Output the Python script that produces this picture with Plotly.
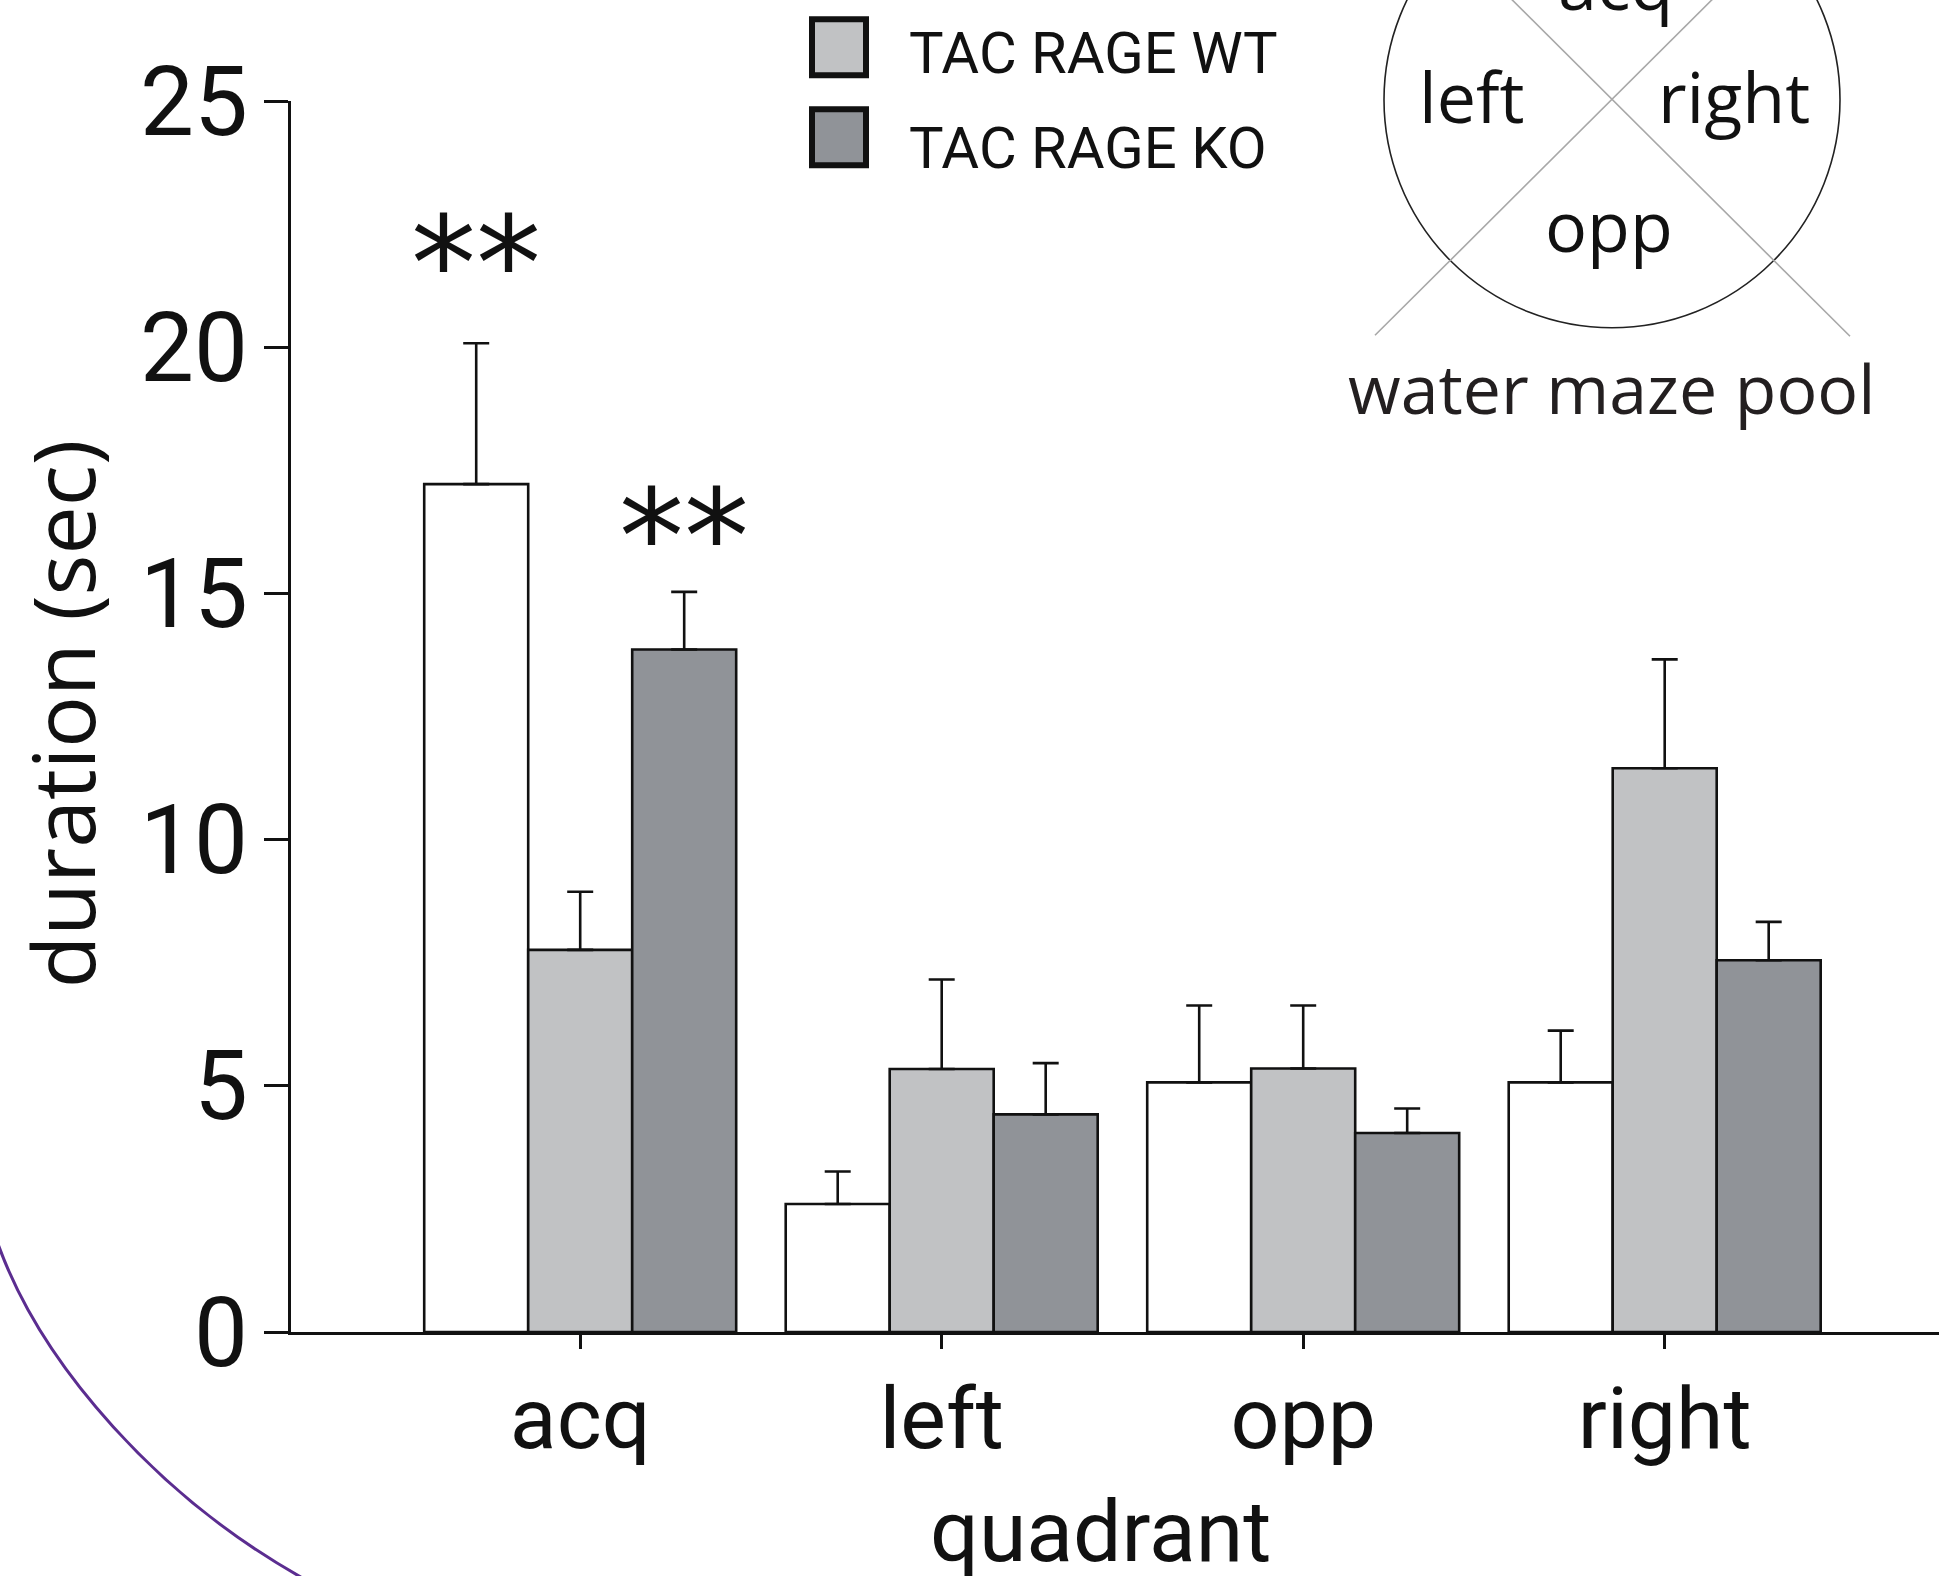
import plotly.graph_objects as go

# ---------------- data ----------------
quadrants = ["acq", "left", "opp", "right"]
control_mean = [17.22, 2.60, 5.07, 5.07]
control_sem = [2.86, 0.66, 1.56, 1.05]
wt_mean = [7.76, 5.34, 5.35, 11.45]
wt_sem = [1.18, 1.82, 1.28, 2.21]
ko_mean = [13.86, 4.42, 4.04, 7.55]
ko_sem = [1.17, 1.04, 0.50, 0.78]
series_names = ["control", "TAC RAGE WT", "TAC RAGE KO"]
y_ticks = [0, 5, 10, 15, 20, 25]
sig_marks = [("acq", 0, "**", 22.07), ("acq", 2, "**", 16.54)]
pool_labels = ["acq", "left", "right", "opp"]

# ---------------- style ----------------
W, H = 1939, 1576
L, R, T, B = 291, 0, 100.7, 244.3
PW, PH = W - L - R, H - T - B
COND = "Roboto, Liberation Sans, sans-serif"
HUM = "Open Sans, Noto Sans, sans-serif"
fills = ["#ffffff", "#c1c2c4", "#909398"]
BARGAP = 0.137


def px(x):
    return (x - L) / PW


def py(y):
    return (H - B - y) / PH


fig = go.Figure()
for name, m, s, c in zip(series_names, [control_mean, wt_mean, ko_mean],
                         [control_sem, wt_sem, ko_sem], fills):
    fig.add_trace(go.Bar(
        x=quadrants, y=m, name=name, showlegend=False,
        marker=dict(color=c, line=dict(color="#111111", width=2.6)),
        error_y=dict(type="data", symmetric=False, array=s,
                     arrayminus=[0] * len(s), color="#111111",
                     thickness=2.6, width=13),
    ))

bw = (1 - BARGAP) / 3
annotations = []
for cat, idx, txt, yv in sig_marks:
    annotations.append(dict(
        x=quadrants.index(cat) + (idx - 1) * bw, y=yv, xref="x", yref="y",
        text=txt, showarrow=False, yshift=-19,
        font=dict(family="DejaVu Sans", size=130, color="#111111"),
        xanchor="center", yanchor="middle"))

# axis titles
annotations.append(dict(x=px(61), y=py(714), xref="paper", yref="paper",
                        text="duration (sec)", textangle=-90, showarrow=False,
                        font=dict(family=HUM, size=86, color="#111111"),
                        xanchor="center", yanchor="middle"))
annotations.append(dict(x=px(1100), y=py(1531), xref="paper", yref="paper",
                        text="quadrant", showarrow=False,
                        font=dict(family=COND, size=86, color="#111111"),
                        xanchor="center", yanchor="middle"))

# legend (drawn manually)
shapes = []
leg_rows = [(series_names[1], fills[1], 17, 53), (series_names[2], fills[2], 107, 148)]
for name, col, top, cy in leg_rows:
    shapes.append(dict(type="rect", xref="paper", yref="paper",
                       x0=px(812), x1=px(866), y0=py(top + 2), y1=py(top + 58),
                       fillcolor=col, line=dict(color="#111111", width=6)))
    annotations.append(dict(x=px(907), y=py(cy), xref="paper", yref="paper",
                            text=name, showarrow=False,
                            font=dict(family=COND, size=58, color="#111111"),
                            xanchor="left", yanchor="middle"))

# water maze pool diagram
cx, cy, r = 1612, 99.5, 228
shapes.append(dict(type="circle", xref="paper", yref="paper",
                   x0=px(cx - r), x1=px(cx + r), y0=py(cy - r), y1=py(cy + r),
                   line=dict(color="#222222", width=1.6)))
shapes.append(dict(type="line", xref="paper", yref="paper",
                   x0=px(1375), y0=py(335), x1=px(cx + (cy + 20)), y1=py(-20),
                   line=dict(color="#a8a8a8", width=1.6)))
shapes.append(dict(type="line", xref="paper", yref="paper",
                   x0=px(1850), y0=py(336), x1=px(cx - (cy + 20)), y1=py(-20),
                   line=dict(color="#a8a8a8", width=1.6)))
pool_pos = {"acq": (1615, -17), "left": (1471, 96), "right": (1734, 96), "opp": (1609, 225)}
for lab in pool_labels:
    x0, y0 = pool_pos[lab]
    annotations.append(dict(x=px(x0), y=py(y0), xref="paper", yref="paper",
                            text=lab, showarrow=False,
                            font=dict(family=HUM, size=70, color="#111111"),
                            xanchor="center", yanchor="middle"))
annotations.append(dict(x=px(1611), y=py(387), xref="paper", yref="paper",
                        text="water maze pool", showarrow=False,
                        font=dict(family=HUM, size=68, color="#231f20"),
                        xanchor="center", yanchor="middle"))

# purple decorative arc
p0, p1, p2, p3 = (-4, 1238), (40, 1366), (162, 1499), (303, 1578)
path = "M {},{} C {},{} {},{} {},{}".format(
    px(p0[0]), py(p0[1]), px(p1[0]), py(p1[1]), px(p2[0]), py(p2[1]), px(p3[0]), py(p3[1]))
shapes.append(dict(type="path", xref="paper", yref="paper", path=path,
                   line=dict(color="#5b2d90", width=3)))

fig.update_layout(
    width=W, height=H, margin=dict(l=L, r=R, t=T, b=B, pad=0),
    paper_bgcolor="white", plot_bgcolor="white",
    barmode="group", bargap=BARGAP, bargroupgap=0,
    shapes=shapes, annotations=annotations, showlegend=False,
    xaxis=dict(type="category", range=[-0.8, -0.8 + PW / 361.5],
               showline=True, linecolor="#111111", linewidth=2.6,
               ticks="outside", ticklen=14, tickwidth=2.6, tickcolor="#111111",
               showgrid=False, zeroline=False, ticklabelstandoff=-4,
               tickfont=dict(family=COND, size=86, color="#111111")),
    yaxis=dict(range=[0, 25], tickvals=y_ticks, showline=True,
               linecolor="#111111", linewidth=2.6, ticks="outside",
               ticklen=24, tickwidth=2.6, tickcolor="#111111",
               showgrid=False, zeroline=False, ticklabelstandoff=-3,
               tickfont=dict(family=COND, size=96, color="#111111")),
)

fig.write_html("out.html", config={"displayModeBar": False},
               post_script="document.body.style.margin='0';")
